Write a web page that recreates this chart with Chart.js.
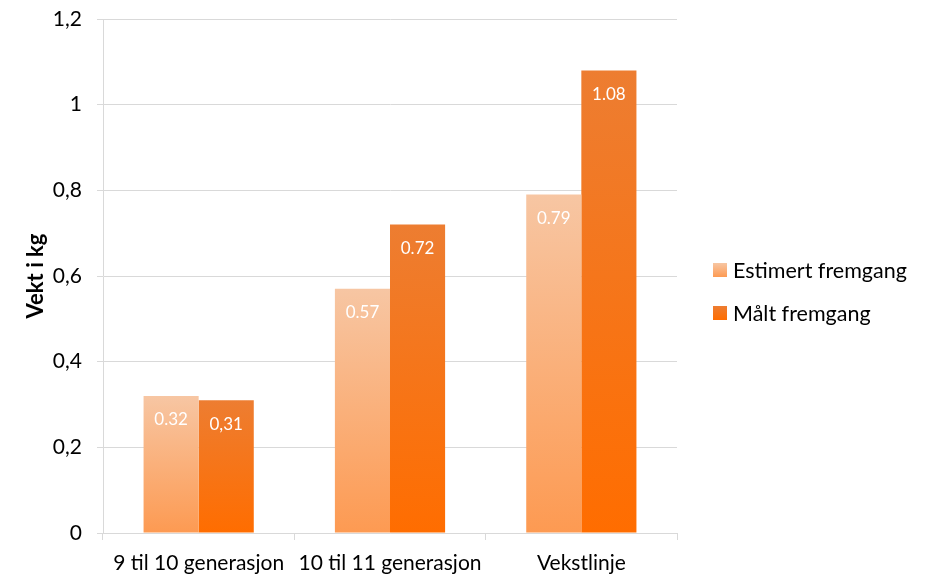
<!DOCTYPE html>
<html lang="no">
<head>
<meta charset="utf-8">
<title>Vekt i kg</title>
<style>
  html, body { margin: 0; padding: 0; background: #fff; }
  #wrap { width: 931px; height: 576px; }
</style>
</head>
<body>
<div id="wrap"><canvas id="chartVekt" width="931" height="576"></canvas></div>
<script src="https://cdn.jsdelivr.net/npm/chart.js@4.4.1/dist/chart.umd.min.js"></script>
<script>
var categories = ["9 til 10 generasjon", "10 til 11 generasjon", "Vekstlinje"];
var seriesNames = ["Estimert fremgang", "Målt fremgang"];
var estimert = [0.32, 0.57, 0.79];
var maalt = [0.31, 0.72, 1.08];
// decimal separator used in each bar's value label
var estimertSep = [".", ".", "."];
var maaltSep = [",", ".", "."];
var yTickLabels = ["0", "0,2", "0,4", "0,6", "0,8", "1", "1,2"];

(function () {
  "use strict";

  var FONT = "Lato, 'Open Sans', sans-serif";
  var gridGray = "#D9D9D9";
  var lightTop = "#F7C6A3", lightBottom = "#FD9A52";
  var darkTop = "#ED7D31", darkBottom = "#FF6D00";

  function formatValue(v, sep) {
    return v.toFixed(2).replace(".", sep);
  }

  /* ---------- Vertical gradient per bar ---------- */
  function barGradient(top, bottom) {
    return function (ctx) {
      var chart = ctx.chart;
      if (!chart.chartArea || ctx.type !== "data") return bottom;
      var y = chart.scales.y;
      var g = chart.ctx.createLinearGradient(0, y.getPixelForValue(ctx.raw), 0, y.getPixelForValue(0));
      g.addColorStop(0, top);
      g.addColorStop(1, bottom);
      return g;
    };
  }

  /* ---------- Value labels inside the bars ---------- */
  var valueLabels = {
    id: "valueLabels",
    afterDatasetsDraw: function (chart) {
      var ctx = chart.ctx;
      var seps = [estimertSep, maaltSep];
      ctx.save();
      ctx.font = "17px " + FONT;
      ctx.fillStyle = "#ffffff";
      ctx.textAlign = "center";
      ctx.textBaseline = "middle";
      chart.data.datasets.forEach(function (ds, di) {
        chart.getDatasetMeta(di).data.forEach(function (bar, i) {
          ctx.fillText(formatValue(ds.data[i], seps[di][i]), bar.x, bar.y + 24);
        });
      });
      ctx.restore();
    }
  };

  /* ---------- Legend on the right ---------- */
  var sideLegend = {
    id: "sideLegend",
    afterDraw: function (chart) {
      var ctx = chart.ctx;
      var x = chart.chartArea.right + 36;
      var y0 = 270;
      var stops = [[lightTop, lightBottom], [darkTop, darkBottom]];
      ctx.save();
      ctx.font = "21.5px " + FONT;
      ctx.fillStyle = "#000";
      ctx.textBaseline = "middle";
      seriesNames.forEach(function (name, i) {
        var cy = y0 + i * 43;
        var g = ctx.createLinearGradient(0, cy - 7, 0, cy + 7);
        g.addColorStop(0, stops[i][0]);
        g.addColorStop(1, stops[i][1]);
        ctx.fillStyle = g;
        ctx.fillRect(x, cy - 7, 14, 14);
        ctx.fillStyle = "#000";
        ctx.fillText(name, x + 20, cy + 1);
      });
      ctx.restore();
    }
  };

  new Chart(document.getElementById("chartVekt"), {
    type: "bar",
    data: {
      labels: categories,
      datasets: [
        {
          label: seriesNames[0],
          data: estimert,
          backgroundColor: barGradient(lightTop, lightBottom),
          categoryPercentage: 0.576,
          barPercentage: 1
        },
        {
          label: seriesNames[1],
          data: maalt,
          backgroundColor: barGradient(darkTop, darkBottom),
          categoryPercentage: 0.576,
          barPercentage: 1
        }
      ]
    },
    options: {
      responsive: false,
      animation: false,
      layout: { padding: { top: 19, right: 254, bottom: 0, left: 0 } },
      plugins: {
        legend: { display: false },
        tooltip: { enabled: false }
      },
      scales: {
        x: {
          offset: true,
          grid: {
            offset: true,
            drawOnChartArea: false,
            drawTicks: true,
            tickLength: 7,
            color: gridGray
          },
          border: { color: gridGray },
          ticks: { color: "#000", padding: 11, font: { family: FONT, size: 21 } },
          afterFit: function (scale) { scale.height = 43; }
        },
        y: {
          min: 0,
          max: 1.2,
          ticks: {
            stepSize: 0.2,
            color: "#000",
            padding: 15,
            font: { family: FONT, size: 21 },
            callback: function (v, i) { return yTickLabels[i]; }
          },
          grid: { color: gridGray, tickLength: 6 },
          border: { color: gridGray },
          title: {
            display: true,
            text: "Vekt i kg",
            color: "#000",
            font: { family: FONT, size: 22, weight: "bold" },
            padding: { top: 23, bottom: 0 }
          },
          afterFit: function (scale) {
            scale.width = 103;
            scale.paddingTop = 0;
            scale.paddingBottom = 0;
          }
        }
      }
    },
    plugins: [valueLabels, sideLegend]
  });
})();
</script>
</body>
</html>
